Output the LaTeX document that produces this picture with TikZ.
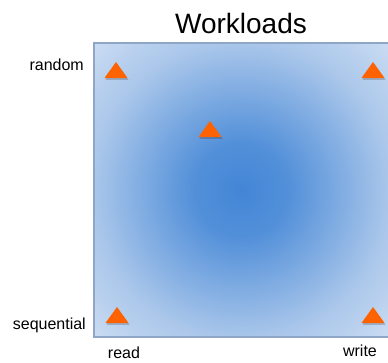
\documentclass[tikz,border=0pt]{standalone}
\usepackage{fontspec}
\setmainfont{Liberation Sans}
\definecolor{cblue}{HTML}{4386D6}
\definecolor{eblue}{HTML}{A9C6EA}
\definecolor{kblue}{HTML}{CCDDF3}
\definecolor{bordc}{HTML}{8FA6C6}
\definecolor{triorange}{HTML}{FF6200}
\pgfdeclareradialshading{workshade}{\pgfpoint{0bp}{0bp}}{%
  color(0bp)=(cblue); color(8bp)=(cblue!85!eblue); color(25bp)=(eblue); color(36bp)=(kblue); color(50bp)=(kblue)}
\tikzset{
  lbl/.style={font=\fontsize{16}{18}\selectfont, inner sep=0pt},
  ttl/.style={font=\fontsize{28}{32}\selectfont, inner sep=0pt},
  pics/tri/.style={code={
    \fill[black, opacity=0.18] (1,1.8) -- (-10.5,17.8) -- (12.5,17.8) -- cycle;
    \fill[triorange] (0,0) -- (-11.5,16) -- (11.5,16) -- cycle;
  }}
}
\begin{document}
\begin{tikzpicture}[x=1pt,y=-1pt]
\useasboundingbox (0,0) rectangle (388,362);
\shade[shading=workshade] (94,43) rectangle (388,337);
\draw[bordc, line width=1.3pt] (388,43) -- (94,43) -- (94,337) -- (388,337);
\pic at (116,62) {tri};
\pic at (373,62) {tri};
\pic at (210,121) {tri};
\pic at (117,307) {tri};
\pic at (373,307) {tri};
\node[ttl] (title) at (241,23) {Workloads};
\node[lbl, anchor=east] (random) at (84,65) {random};
\node[lbl, anchor=east] (seq) at (86,325) {sequential};
\node[lbl] (read) at (124,353) {read};
\node[lbl] (write) at (360,351) {write};
\end{tikzpicture}
\end{document}
